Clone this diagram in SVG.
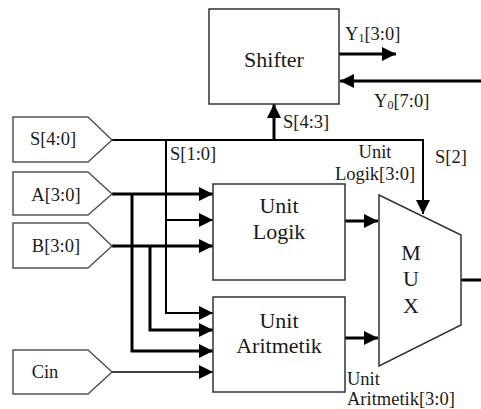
<svg xmlns="http://www.w3.org/2000/svg" width="481" height="409" viewBox="0 0 481 409">
<style>
.box{fill:#fff;stroke:#333;stroke-width:1.5}
.pin{fill:#fff;stroke:#555;stroke-width:1.5}
.t{font-family:"Liberation Serif","Times New Roman",serif;fill:#1a1a1a}
.big{font-size:22px}
.sm{font-size:18.5px}
.w{fill:none;stroke:#000;stroke-linejoin:miter}
.th{stroke-width:3}
.md{stroke-width:2}
.tn{stroke-width:1.5}
</style>
<defs>
<marker id="ah" markerUnits="userSpaceOnUse" markerWidth="14" markerHeight="14" refX="12" refY="6" orient="auto" viewBox="0 0 12 12">
<path d="M0,0 L12,6 L0,12 Z" fill="#000"/>
</marker>
</defs>
<rect width="481" height="409" fill="#fff"/>

<g id="connectors">
<path class="w md" d="M112,140 H423 V214" marker-end="url(#ah)"/>
<path class="w th" d="M274,140 V104" marker-end="url(#ah)"/>
<path class="w md" d="M166,140 V313 H213" marker-end="url(#ah)"/>
<path class="w md" d="M166,220 H213" marker-end="url(#ah)"/>
<path class="w th" d="M112,194 H213" marker-end="url(#ah)"/>
<path class="w th" d="M132,194 V351 H213" marker-end="url(#ah)"/>
<path class="w th" d="M112,246 H213" marker-end="url(#ah)"/>
<path class="w th" d="M150,246 V330 H213" marker-end="url(#ah)"/>
<path class="w tn" d="M112,372 H213" marker-end="url(#ah)"/>
<path class="w th" d="M345,221 H378" marker-end="url(#ah)"/>
<path class="w th" d="M345,338 H378" marker-end="url(#ah)"/>
<path class="w th" d="M339,54 H396" marker-end="url(#ah)"/>
<path class="w th" d="M481,81 H340" marker-end="url(#ah)"/>
<path class="w th" d="M461,280 H481"/>
<text class="t sm" x="345" y="40">Y<tspan font-size="12" dy="2">1</tspan><tspan dy="-2">[3:0]</tspan></text>
<text class="t sm" x="374" y="107">Y<tspan font-size="12" dy="2">0</tspan><tspan dy="-2">[7:0]</tspan></text>
<text class="t sm" x="283" y="128">S[4:3]</text>
<text class="t sm" x="170" y="160">S[1:0]</text>
<text class="t sm" x="435" y="163">S[2]</text>
<text class="t sm" x="375" y="158" text-anchor="middle">Unit</text>
<text class="t sm" x="375" y="180" text-anchor="middle">Logik[3:0]</text>
<text class="t sm" x="347" y="385">Unit</text>
<text class="t sm" x="347" y="405">Aritmetik[3:0]</text>
</g>

<g id="shifter">
<rect class="box" x="209" y="9" width="130" height="95"/>
<text class="t big" x="274" y="67" text-anchor="middle">Shifter</text>
</g>

<g id="s40">
<polygon class="pin" points="13,117 88,117 112,140 88,162 13,162"/>
<text class="t sm" x="53" y="145" text-anchor="middle">S[4:0]</text>
</g>
<g id="a30">
<polygon class="pin" points="13,172 88,172 112,194 88,215 13,215"/>
<text class="t sm" x="56" y="201" text-anchor="middle">A[3:0]</text>
</g>
<g id="b30">
<polygon class="pin" points="13,223 88,223 112,246 88,268 13,268"/>
<text class="t sm" x="56" y="252" text-anchor="middle">B[3:0]</text>
</g>
<g id="cin">
<polygon class="pin" points="13,350 88,350 112,372 88,394 13,394"/>
<text class="t sm" x="45" y="378" text-anchor="middle">Cin</text>
</g>

<g id="logik">
<rect class="box" x="213" y="184" width="132" height="96"/>
<text class="t big" x="279" y="213" text-anchor="middle">Unit</text>
<text class="t big" x="279" y="239" text-anchor="middle">Logik</text>
</g>

<g id="aritmetik">
<rect class="box" x="213" y="297" width="132" height="95"/>
<text class="t big" x="279" y="328" text-anchor="middle">Unit</text>
<text class="t big" x="279" y="353" text-anchor="middle">Aritmetik</text>
</g>

<g id="mux">
<polygon class="box" points="379,195 461,235 461,325 379,366"/>
<text class="t big" x="411" y="260" text-anchor="middle">M</text>
<text class="t big" x="411" y="286" text-anchor="middle">U</text>
<text class="t big" x="411" y="313" text-anchor="middle">X</text>
</g>
</svg>
